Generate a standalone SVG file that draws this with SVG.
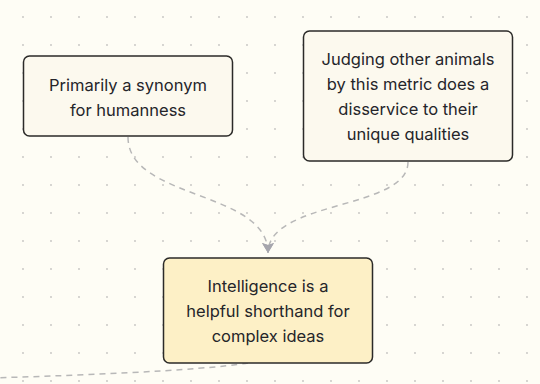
<svg xmlns="http://www.w3.org/2000/svg" width="540" height="384" viewBox="0 0 540 384">
<defs>
<pattern id="dots" x="0" y="0" width="28" height="28" patternUnits="userSpaceOnUse">
<circle cx="23" cy="17" r="0.9" fill="#c4c4c0"/>
</pattern>
<marker id="arr" viewBox="0 0 12 12" refX="11" refY="6" markerWidth="12" markerHeight="12" markerUnits="userSpaceOnUse" orient="auto">
<path d="M1,0 L3,6 L1,12 L11,6 Z" fill="#a6a6ad"/>
</marker>
<style>
.node rect{stroke:#2b2a28;stroke-width:1.5}
.n{fill:#fcf9ee}
.h{fill:#fdf0c6}
text{font-family:Inter,"Noto Sans","Liberation Sans",sans-serif;font-size:16.5px;fill:#25252a;text-anchor:middle}
.edge{fill:none;stroke:#b8b8b8;stroke-width:1.5;stroke-dasharray:6 5}
</style>
</defs>
<rect width="540" height="384" fill="#fefdf5"/>
<rect width="540" height="384" fill="url(#dots)"/>
<g id="connectors">
<path class="edge" d="M128,137 C128,200 268,190 268,253" marker-end="url(#arr)"/>
<path class="edge" d="M408,162 C408,210 268,200 268,253" marker-end="url(#arr)"/>
<path class="edge" d="M248,363 C200,371 60,376 -10,378"/>
</g>
<g id="node1" class="node">
<rect class="n" x="23.5" y="56" width="209" height="80" rx="6"/>
<text x="128" y="90.5">Primarily a synonym</text>
<text x="128" y="115.5">for humanness</text>
</g>
<g id="node2" class="node">
<rect class="n" x="303.5" y="31" width="209" height="130" rx="6"/>
<text x="408" y="64.5">Judging other animals</text>
<text x="408" y="89.5">by this metric does a</text>
<text x="408" y="114.5">disservice to their</text>
<text x="408" y="139.5">unique qualities</text>
</g>
<g id="node3" class="node">
<rect class="h" x="163.5" y="258" width="209" height="105" rx="6"/>
<text x="268" y="291.5">Intelligence is a</text>
<text x="268" y="316.5">helpful shorthand for</text>
<text x="268" y="341.5">complex ideas</text>
</g>
</svg>
